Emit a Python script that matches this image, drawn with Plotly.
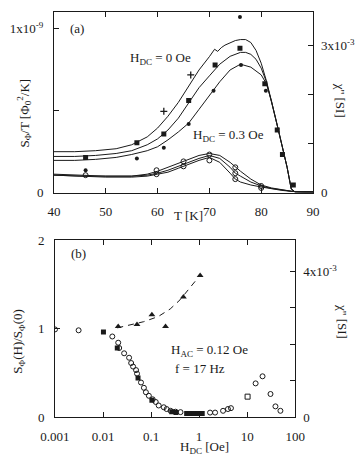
import plotly.graph_objects as go

# ---------------- panel (a): noise / chi'' vs temperature ----------------
# noise curves, left axis, units of 1e-9 Phi0^2/K
t_c1 = [40, 44, 48, 52, 55, 58, 60, 62, 64, 66, 68, 70, 71, 71.6, 72.3, 73, 74, 75, 76, 77, 78,
        79, 80, 81, 82, 83, 84, 85, 85.8, 86.5, 88, 90]
s_c1 = [0.251, 0.251, 0.257, 0.269, 0.293, 0.341, 0.395, 0.467, 0.551, 0.647, 0.749, 0.830, 0.875,
        0.862, 0.885, 0.900, 0.916, 0.928, 0.934, 0.934, 0.916, 0.868, 0.790, 0.683, 0.557, 0.425,
        0.293, 0.156, 0.024, 0.006, 0.006, 0.006]
t_c2 = [40, 44, 48, 52, 55, 58, 60, 62, 64, 66, 68, 70, 72, 74, 76, 77, 78, 79, 80, 81, 82, 83, 84,
        85, 85.8, 86.5, 88, 90]
s_c2 = [0.222, 0.222, 0.228, 0.240, 0.257, 0.293, 0.329, 0.383, 0.455, 0.551, 0.641, 0.713, 0.784,
        0.832, 0.856, 0.856, 0.844, 0.814, 0.760, 0.677, 0.557, 0.425, 0.293, 0.156, 0.024, 0.006,
        0.006, 0.006]
t_c3 = [40, 44, 48, 52, 55, 58, 60, 62, 64, 66, 68, 70, 72, 74, 76, 78, 80, 81, 82, 83, 84, 85,
        85.8, 86.5, 88, 90]
s_c3 = [0.198, 0.198, 0.204, 0.216, 0.234, 0.257, 0.281, 0.323, 0.371, 0.425, 0.509, 0.593, 0.677,
        0.749, 0.784, 0.766, 0.719, 0.665, 0.557, 0.425, 0.293, 0.156, 0.024, 0.006, 0.006, 0.006]

t_h03 = [40, 45, 50, 55, 58, 60, 62, 64, 66, 68, 70, 72, 74, 75, 76, 78, 80, 82, 84, 86, 88, 90]
s_h03_a = [0.114, 0.108, 0.102, 0.102, 0.114, 0.132, 0.156, 0.180, 0.204, 0.228, 0.240, 0.228, 0.186,
           0.156, 0.132, 0.084, 0.048, 0.030, 0.018, 0.009, 0.006, 0.006]
s_h03_b = [0.108, 0.102, 0.102, 0.102, 0.108, 0.120, 0.138, 0.162, 0.186, 0.210, 0.228, 0.210, 0.156,
           0.120, 0.102, 0.066, 0.042, 0.027, 0.018, 0.009, 0.006, 0.006]
s_h03_c = [0.108, 0.102, 0.096, 0.096, 0.102, 0.114, 0.126, 0.150, 0.174, 0.198, 0.216, 0.186, 0.120,
           0.084, 0.066, 0.048, 0.036, 0.024, 0.015, 0.009, 0.006, 0.006]

# chi'' markers, right axis, units of 1e-3 SI
t_sq = [46.1, 56, 61.2, 66, 71.1, 75.9, 80.7, 83.1, 84.1, 86.2]
x_sq = [0.72, 1.02, 1.20, 1.88, 2.60, 2.94, 2.22, 1.28, 0.78, 0.16]
t_dot = [46.1, 56, 61.2, 66, 70.8, 76.1, 80.9]
x_dot = [0.46, 0.70, 0.92, 1.40, 2.08, 2.60, 2.08]
t_plus = [61.2, 66.4]
x_plus = [1.66, 2.40]
t_out = [75.9]
x_out = [3.58]
t_open = [46.1, 59.8, 59.8, 65, 65, 70, 70, 75, 75, 75, 80, 80]
x_open = [0.36, 0.46, 0.38, 0.64, 0.54, 0.78, 0.66, 0.52, 0.40, 0.28, 0.14, 0.10]

# ---------------- panel (b): field dependence ----------------
h_circ = [0.001, 0.0031, 0.0156, 0.0207, 0.0217, 0.0275, 0.0349, 0.0385, 0.0422, 0.0487, 0.051,
          0.0617, 0.0709, 0.078, 0.0899, 0.108, 0.125, 0.144, 0.184, 0.211, 0.255, 0.324, 0.41,
          1.69, 2.15, 3.15, 3.98, 4.6, 15.0, 20.9, 30.6, 38.8, 49.2]
r_circ = [0.99, 0.98, 0.91, 0.84, 0.78, 0.72, 0.67, 0.61, 0.57, 0.53, 0.49, 0.39, 0.33, 0.28, 0.24,
          0.20, 0.17, 0.13, 0.11, 0.09, 0.07, 0.06, 0.055, 0.05, 0.05, 0.07, 0.09, 0.10, 0.38, 0.46,
          0.26, 0.12, 0.07]
h_osq = [10.2]
r_osq = [0.23]
h_fsq = [0.0102, 0.0198, 0.0535, 0.104, 0.27, 0.33, 0.55, 0.66, 0.80, 0.96, 1.16]
r_fsq = [0.96, 0.78, 0.44, 0.19, 0.06, 0.05, 0.04, 0.04, 0.04, 0.04, 0.04]
h_tri = [0.0207, 0.0509, 0.104, 0.2, 0.47, 1.05]
x_tri = [2.49, 2.54, 2.81, 2.49, 3.30, 3.89]
h_dash = [0.0198, 0.035, 0.07, 0.14, 0.25, 0.40, 0.6, 0.85]
x_dash = [2.45, 2.52, 2.62, 2.76, 2.97, 3.22, 3.5, 3.75]

INK = "#1a1a1a"
FONT = "Liberation Serif"
W, H = 360, 458
ML, MR, MT, MB = 54, 44, 5, 41


def px(x, y):
    """pixel position -> paper coords"""
    return (x - ML) / (W - ML - MR), (H - MB - y) / (H - MT - MB)


fig = go.Figure()
line = dict(color=INK, width=1)
for t, s in [(t_c1, s_c1), (t_c2, s_c2), (t_c3, s_c3),
             (t_h03, s_h03_a), (t_h03, s_h03_b), (t_h03, s_h03_c)]:
    fig.add_trace(go.Scatter(x=t, y=s, mode="lines", line=line, xaxis="x", yaxis="y"))

mk = [(t_sq, x_sq, dict(symbol="square", size=5, color=INK)),
      (t_dot, x_dot, dict(symbol="circle", size=4, color=INK)),
      (t_plus, x_plus, dict(symbol="cross-thin", size=5, line=dict(color=INK, width=1.3))),
      (t_out, x_out, dict(symbol="circle", size=4, color=INK)),
      (t_open, x_open, dict(symbol="circle-open", size=5, color=INK, line=dict(width=1)))]
for t, v, m in mk:
    fig.add_trace(go.Scatter(x=t, y=v, mode="markers", marker=m, xaxis="x", yaxis="y2"))

fig.add_trace(go.Scatter(x=h_circ, y=r_circ, mode="markers", xaxis="x2", yaxis="y3",
                         marker=dict(symbol="circle-open", size=5, color=INK, line=dict(width=1))))
fig.add_trace(go.Scatter(x=h_osq, y=r_osq, mode="markers", xaxis="x2", yaxis="y3",
                         marker=dict(symbol="square-open", size=5, color=INK, line=dict(width=1))))
fig.add_trace(go.Scatter(x=h_fsq, y=r_fsq, mode="markers", xaxis="x2", yaxis="y3",
                         marker=dict(symbol="square", size=5, color=INK)))
fig.add_trace(go.Scatter(x=h_dash, y=x_dash, mode="lines", xaxis="x2", yaxis="y4",
                         line=dict(color=INK, width=1, dash="6px,5px")))
fig.add_trace(go.Scatter(x=h_tri, y=x_tri, mode="markers", xaxis="x2", yaxis="y4",
                         marker=dict(symbol="triangle-up", size=6, color=INK)))

ax = dict(showline=True, linecolor=INK, linewidth=1, ticks="inside", ticklen=5, tickcolor=INK,
          showgrid=False, zeroline=False, tickfont=dict(family=FONT, size=13, color=INK),
          ticklabelstandoff=7)
fig.update_layout(
    width=W, height=H, margin=dict(l=ML, r=MR, t=MT, b=MB),
    paper_bgcolor="white", plot_bgcolor="white", showlegend=False,
    font=dict(family=FONT, size=13, color=INK),
    xaxis=dict(ax, domain=[0, 1], anchor="y", range=[40, 90], mirror="ticks",
               tickvals=[40, 50, 60, 70, 80, 90]),
    yaxis=dict(ax, domain=[px(0, 189)[1], 1], anchor="x", range=[0, 1.102], mirror=True,
               tickvals=[0, 0.5, 1], ticktext=["0", "", "1x10<sup>-9</sup>"]),
    yaxis2=dict(ax, overlaying="y", side="right", anchor="x", range=[0, 3.68], showline=False,
                tickvals=[0, 1, 2, 3], ticktext=["0", "", "", "3x10<sup>-3</sup>"]),
    xaxis2=dict(ax, domain=[px(55, 0)[0], px(298, 0)[0]], anchor="y3", type="log", range=[-3, 2],
                mirror="ticks", tickvals=[0.001, 0.01, 0.1, 1, 10, 100],
                ticktext=["0.001", "0.01", "0.1", "1", "10", "100"]),
    yaxis3=dict(ax, domain=[0, px(0, 237)[1]], anchor="x2", range=[0, 2], mirror=True,
                tickvals=[0, 1, 2]),
    yaxis4=dict(ax, overlaying="y3", side="right", anchor="x2", range=[0, 4.865], showline=False,
                tickvals=[0, 1, 2, 3, 4], ticktext=["0", "", "", "", "4x10<sup>-3</sup>"]),
)

anns = [
    ("(a)", 77, 22, 0, "center"),
    ("H<sub>DC</sub> = 0 Oe", 162, 52, 0, "center"),
    ("H<sub>DC</sub> = 0.3 Oe", 231, 131, 0, "center"),
    ("T [K]", 190, 212, 0, "center"),
    ("S<sub>Φ</sub>/T [Φ<sub>0</sub><sup>2</sup>/K]", 24, 108, -90, "center"),
    ("χ'' [SI]", 344, 95, 90, "center"),
    ("(b)", 79, 251, 0, "center"),
    ("H<sub>AC</sub> = 0.12 Oe", 170, 349, 0, "left"),
    ("f = 17 Hz", 174, 368, 0, "left"),
    ("H<sub>DC</sub> [Oe]", 206, 448, 0, "center"),
    ("S<sub>Φ</sub>(H)/S<sub>Φ</sub>(0)", 18, 340, -90, "center"),
    ("χ'' [SI]", 346, 320, 90, "center"),
]
for text, x, y, ang, anchor in anns:
    xp, yp = px(x, y)
    fig.add_annotation(text=text, x=xp, y=yp, xref="paper", yref="paper", showarrow=False,
                       textangle=ang, xanchor=anchor, yanchor="middle",
                       font=dict(family=FONT, size=13, color=INK))

# drop the browser's default body margin so the figure sits at (0, 0)
fig.write_html("out.html", config={"displayModeBar": False},
               post_script="document.body.style.margin='0';")
